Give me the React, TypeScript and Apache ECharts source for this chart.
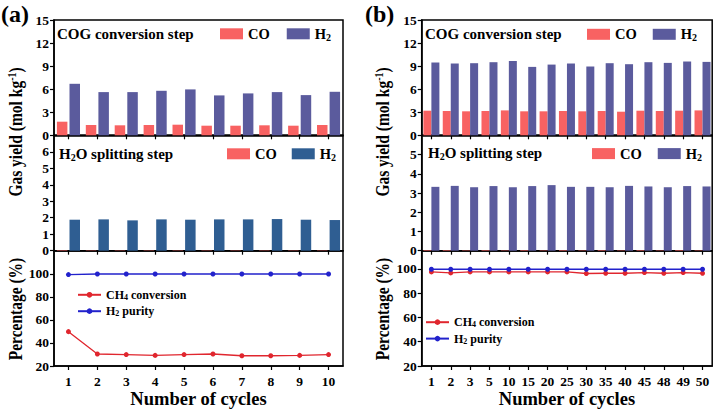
import React, { useEffect, useRef } from "react";
import * as echarts from "echarts";

const catsA = ["1", "2", "3", "4", "5", "6", "7", "8", "9", "10"];
const catsB = ["1", "2", "3", "5", "10", "15", "20", "25", "30", "35", "40", "45", "48", "49", "50"];

const cogCO_A = [1.77, 1.34, 1.3, 1.34, 1.38, 1.25, 1.25, 1.3, 1.25, 1.34];
const cogH2_A = [6.7, 5.62, 5.62, 5.79, 5.97, 5.19, 5.45, 5.62, 5.23, 5.66];
const splitCO_A = [0.03, 0.02, 0.02, 0.02, 0.02, 0.02, 0.02, 0.02, 0.02, 0.02];
const splitH2_A = [1.88, 1.9, 1.84, 1.9, 1.88, 1.9, 1.9, 1.92, 1.88, 1.86];
const ch4A = [49.8, 30.4, 29.9, 29.2, 29.9, 30.4, 28.9, 28.9, 29.2, 29.9];
const purityA = [99.3, 99.8, 99.8, 99.8, 99.8, 99.8, 99.8, 99.8, 99.8, 99.8];

const cogCO_B = [3.2, 3.16, 3.12, 3.16, 3.24, 3.12, 3.12, 3.16, 3.12, 3.16, 3.07, 3.2, 3.16, 3.2, 3.24];
const cogH2_B = [9.47, 9.34, 9.38, 9.51, 9.68, 8.9, 9.2, 9.34, 8.95, 9.38, 9.25, 9.51, 9.42, 9.6, 9.55];
const splitCO_B = [0.03, 0.03, 0.02, 0.03, 0.02, 0.03, 0.02, 0.03, 0.02, 0.03, 0.02, 0.03, 0.02, 0.03, 0.02];
const splitH2_B = [3.32, 3.37, 3.3, 3.36, 3.3, 3.36, 3.41, 3.32, 3.32, 3.3, 3.37, 3.34, 3.3, 3.36, 3.34];
const ch4B = [97.5, 96.7, 97.5, 97.5, 97.5, 97.5, 97.5, 97.5, 96.2, 96.4, 96.4, 97.0, 96.4, 97.0, 96.4];
const purityB = [99.7, 99.7, 99.7, 99.7, 99.7, 99.7, 99.7, 99.7, 99.7, 99.7, 99.7, 99.7, 99.7, 99.7, 99.7];

const FONT = "Liberation Serif";
const RED = "#F86262";
const PURPLE = "#5B5B9D";
const BLUE_BAR = "#2F5E92";
const LINE_RED = "#E0262E";
const LINE_BLUE = "#2222CC";

const legendNames: Record<string, string> = {
  aCogCO: "{t|CO}",
  aCogH2: "{t|H}{s|2}",
  aSplCO: "{t|CO}",
  aSplH2: "{t|H}{s|2}",
  bCogCO: "{t|CO}",
  bCogH2: "{t|H}{s|2}",
  bSplCO: "{t|CO}",
  bSplH2: "{t|H}{s|2}",
  aCH4: "{t|CH}{s|4}{t| conversion}",
  aPur: "{t|H}{s|2}{t| purity}",
  bCH4: "{t|CH}{s|4}{t| conversion}",
  bPur: "{t|H}{s|2}{t| purity}",
};

function richSet(size: number) {
  return {
    t: { fontFamily: FONT, fontWeight: "bold", fontSize: size, lineHeight: size + 2, color: "#000" },
    s: { fontFamily: FONT, fontWeight: "bold", fontSize: Math.round(size * 0.68), lineHeight: Math.round(size * 0.68), padding: [Math.round(size * 0.45), 0, 0, 0], color: "#000" },
    sup: { fontFamily: FONT, fontWeight: "bold", fontSize: Math.round(size * 0.65), lineHeight: Math.round(size * 0.65), padding: [0, 0, Math.round(size * 0.5), 0], color: "#000" },
  };
}

export default function App() {
  const ref = useRef<HTMLDivElement>(null);
  useEffect(() => {
    if (!ref.current) return;
    const chart = echarts.init(ref.current, null, { renderer: "svg" });

    const gridA = { left: 54, width: 289 };
    const gridB = { left: 421.7, width: 290.5 };
    const rows = [
      { top: 20, height: 115.3 },
      { top: 135.3, height: 115.4 },
      { top: 250.7, height: 115.3 },
    ];
    const grid: any[] = [];
    [gridA, gridB].forEach((g) =>
      rows.forEach((r) =>
        grid.push({ ...g, ...r, show: true, borderColor: "#000", borderWidth: 1.5, backgroundColor: "transparent" })
      )
    );

    const xAxis: any[] = [];
    for (let i = 0; i < 6; i++) {
      const isB = i >= 3;
      const isBottom = i % 3 === 2;
      xAxis.push({
        type: "category",
        gridIndex: i,
        data: isB ? catsB : catsA,
        boundaryGap: true,
        axisLine: { show: true, lineStyle: { color: "#000", width: 1.5 } },
        axisTick: { show: true, alignWithLabel: true, inside: false, length: 4, lineStyle: { color: "#000", width: 1.2 } },
        axisLabel: {
          show: isBottom,
          interval: 0,
          margin: 8,
          fontFamily: FONT,
          fontWeight: "bold",
          fontSize: 13.5,
          color: "#000",
        },
        splitLine: { show: false },
        name: isBottom ? "Number of cycles" : "",
        nameLocation: "middle",
        nameGap: 23,
        nameTextStyle: { fontFamily: FONT, fontWeight: "bold", fontSize: 18.5, color: "#000" },
      });
    }

    const yDefs = [
      { min: 0, max: 15, interval: 3, hideMax: false },
      { min: 0, max: 7, interval: 1, hideMax: true },
      { min: 20, max: 120, interval: 20, hideMax: true },
      { min: 0, max: 15, interval: 3, hideMax: false },
      { min: 0, max: 6, interval: 1, hideMax: true },
      { min: 20, max: 115, interval: 20, hideMax: true },
    ];
    const yAxis = yDefs.map((d, i) => ({
      type: "value",
      gridIndex: i,
      min: d.min,
      max: d.max,
      interval: d.interval,
      axisLine: { show: true, lineStyle: { color: "#000", width: 1.5 } },
      axisTick: { show: true, inside: false, length: 4, lineStyle: { color: "#000", width: 1.2 } },
      axisLabel: {
        showMaxLabel: !d.hideMax,
        margin: 5,
        fontFamily: FONT,
        fontWeight: "bold",
        fontSize: 13.5,
        color: "#000",
      },
      splitLine: { show: false },
    }));

    const barA = { type: "bar", barWidth: 10.5, barGap: "20%" };
    const barB = { type: "bar", barWidth: 8, barGap: "0%" };
    const lineCommon = { type: "line", symbol: "circle", symbolSize: 5 };

    const series: any[] = [
      { ...barA, name: "aCogCO", xAxisIndex: 0, yAxisIndex: 0, data: cogCO_A, itemStyle: { color: RED } },
      { ...barA, name: "aCogH2", xAxisIndex: 0, yAxisIndex: 0, data: cogH2_A, itemStyle: { color: PURPLE } },
      { ...barA, name: "aSplCO", xAxisIndex: 1, yAxisIndex: 1, data: splitCO_A, itemStyle: { color: RED } },
      { ...barA, name: "aSplH2", xAxisIndex: 1, yAxisIndex: 1, data: splitH2_A, itemStyle: { color: BLUE_BAR } },
      { ...lineCommon, name: "aCH4", xAxisIndex: 2, yAxisIndex: 2, data: ch4A, itemStyle: { color: LINE_RED }, lineStyle: { color: LINE_RED, width: 1.3 } },
      { ...lineCommon, name: "aPur", xAxisIndex: 2, yAxisIndex: 2, data: purityA, itemStyle: { color: LINE_BLUE }, lineStyle: { color: LINE_BLUE, width: 1.3 } },
      { ...barB, name: "bCogCO", xAxisIndex: 3, yAxisIndex: 3, data: cogCO_B, itemStyle: { color: RED } },
      { ...barB, name: "bCogH2", xAxisIndex: 3, yAxisIndex: 3, data: cogH2_B, itemStyle: { color: PURPLE } },
      { ...barB, name: "bSplCO", xAxisIndex: 4, yAxisIndex: 4, data: splitCO_B, itemStyle: { color: RED } },
      { ...barB, name: "bSplH2", xAxisIndex: 4, yAxisIndex: 4, data: splitH2_B, itemStyle: { color: PURPLE } },
      { ...lineCommon, name: "bCH4", xAxisIndex: 5, yAxisIndex: 5, data: ch4B, itemStyle: { color: LINE_RED }, lineStyle: { color: LINE_RED, width: 1.3 } },
      { ...lineCommon, name: "bPur", xAxisIndex: 5, yAxisIndex: 5, data: purityB, itemStyle: { color: LINE_BLUE }, lineStyle: { color: LINE_BLUE, width: 1.3 } },
    ];

    const barLegend = (data: string[], left: number, top: number, gap: number) => ({
      data,
      left,
      top,
      orient: "horizontal",
      padding: 0,
      icon: "rect",
      itemWidth: 23,
      itemHeight: 11,
      itemGap: gap,
      selectedMode: false,
      formatter: (n: string) => legendNames[n],
      textStyle: { rich: richSet(14.5) },
    });
    const lineLegend = (data: string[], left: number, top: number) => ({
      data,
      left,
      top,
      orient: "vertical",
      padding: 0,
      itemWidth: 23,
      itemHeight: 7,
      itemGap: 3.4,
      selectedMode: false,
      formatter: (n: string) => legendNames[n],
      textStyle: { rich: richSet(12) },
    });

    const legend = [
      barLegend(["aCogCO", "aCogH2"], 220, 25.3, 17),
      barLegend(["aSplCO", "aSplH2"], 227, 145.3, 15),
      barLegend(["bCogCO", "bCogH2"], 587, 25.8, 16),
      barLegend(["bSplCO", "bSplH2"], 592, 145.1, 16),
      lineLegend(["aCH4", "aPur"], 77, 288.3),
      lineLegend(["bCH4", "bPur"], 425, 315.7),
    ];

    const txt = (x: number, y: number, text: string, size: number, extra: any = {}) => ({
      type: "text",
      x,
      y,
      ...extra,
      style: {
        text,
        fontFamily: FONT,
        fontWeight: "bold",
        fontSize: size,
        fill: "#000",
        rich: richSet(size),
        verticalAlign: "middle",
        align: extra.rotation ? "center" : "left",
      },
    });

    const graphic = [
      txt(1, 13.5, "{t|(a)}", 24),
      txt(365, 13.5, "{t|(b)}", 24),
      txt(57, 33.5, "{t|COG conversion step}", 15),
      txt(59, 153.5, "{t|H}{s|2}{t|O splitting step}", 15),
      txt(425, 34, "{t|COG conversion step}", 15),
      txt(428, 153.3, "{t|H}{s|2}{t|O splitting step}", 15),
      txt(16.5, 132, "{t|Gas yield (mol kg}{sup|-1}{t|)}", 15.5, { rotation: Math.PI / 2, scaleY: 1.18 }),
      txt(16.5, 309, "{t|Percentage (%)}", 15.5, { rotation: Math.PI / 2, scaleY: 1.18 }),
      txt(383.5, 132, "{t|Gas yield (mol kg}{sup|-1}{t|)}", 15.5, { rotation: Math.PI / 2, scaleY: 1.18 }),
      txt(383.5, 309, "{t|Percentage (%)}", 15.5, { rotation: Math.PI / 2, scaleY: 1.18 }),
    ];

    chart.setOption({
      animation: false,
      backgroundColor: "#fff",
      grid,
      xAxis,
      yAxis,
      series,
      legend,
      graphic,
    });
    return () => chart.dispose();
  }, []);
  return <div ref={ref} style={{ position: "fixed", left: 0, top: 0, width: 715, height: 414 }} />;
}
